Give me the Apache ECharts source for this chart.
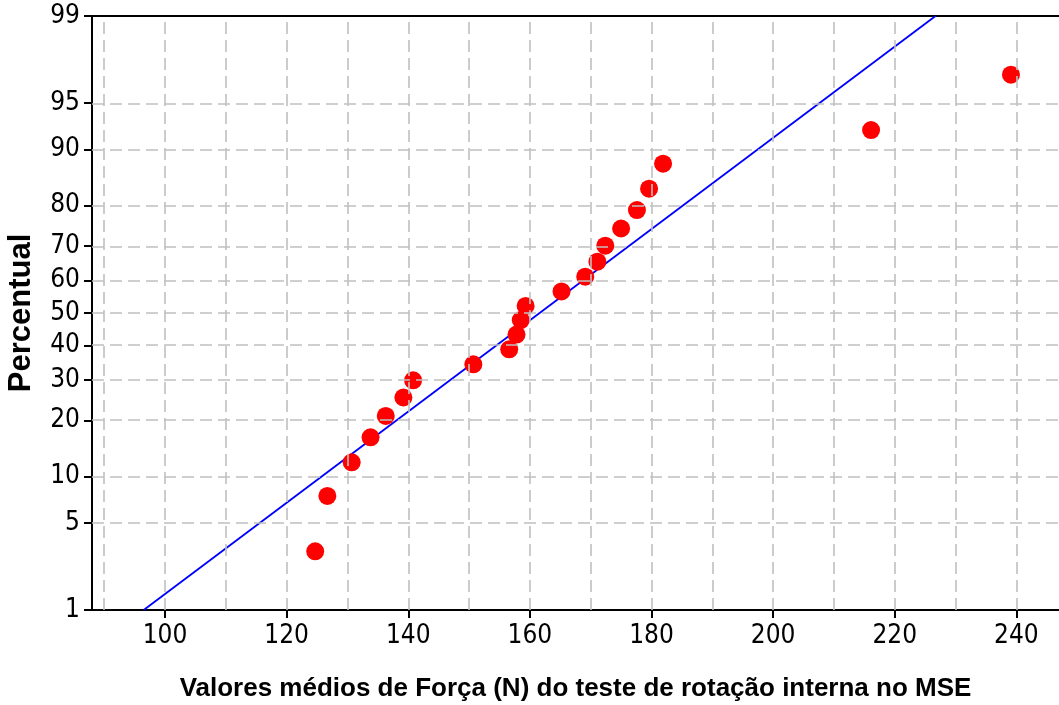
<!DOCTYPE html>
<html>
<head>
<meta charset="utf-8">
<script src="https://cdn.jsdelivr.net/npm/echarts@6/dist/echarts.min.js"></script>
<style>
html,body{margin:0;padding:0;background:#fff;}
#chart{width:1059px;height:705px;}
</style>
</head>
<body>
<div id="chart"></div>
<script>
// ---- data ----
const forceValues = [124.7, 126.7, 130.7, 133.8, 136.3, 139.2, 140.8, 150.7, 156.6, 157.8, 158.5,
                     159.3, 165.2, 169.1, 171.1, 172.4, 175.0, 177.6, 179.6, 181.9, 216.1, 239.1];
const percentValues = [3.1, 7.6, 12.1, 16.5, 21.0, 25.4, 29.9, 34.4, 38.8, 43.3, 47.8,
                       52.2, 56.7, 61.2, 65.6, 70.1, 74.6, 79.0, 83.5, 87.9, 92.4, 96.9];
const fitLineForce = [96.5, 226.7];
const fitLinePercent = [1, 99];
const yTickLabels = [1, 5, 10, 20, 30, 40, 50, 60, 70, 80, 90, 95, 99];
const xTickLabels = [100, 120, 140, 160, 180, 200, 220, 240];
const xGridValues = [90, 100, 110, 120, 130, 140, 150, 160, 170, 180, 190, 200, 210, 220, 230, 240];
const yGridLabels = [5, 10, 20, 30, 40, 50, 60, 70, 80, 90, 95];
const xTitle = 'Valores médios de Força (N) do teste de rotação interna no MSE';
const yTitle = 'Percentual';

// inverse standard normal (probability scale)
function normInv(p) {
  const a = [-3.969683028665376e+01, 2.209460984245205e+02, -2.759285104469687e+02, 1.383577518672690e+02, -3.066479806614716e+01, 2.506628277459239e+00];
  const b = [-5.447609879822406e+01, 1.615858368580409e+02, -1.556989798598866e+02, 6.680131188771972e+01, -1.328068155288572e+01];
  const c = [-7.784894002430293e-03, -3.223964580411365e-01, -2.400758277161838e+00, -2.549732539343734e+00, 4.374664141464968e+00, 2.938163982698783e+00];
  const d = [7.784695709041462e-03, 3.224671290700398e-01, 2.445134137142996e+00, 3.754408661907416e+00];
  const plow = 0.02425, phigh = 1 - plow;
  let q, r;
  if (p < plow) {
    q = Math.sqrt(-2 * Math.log(p));
    return (((((c[0]*q+c[1])*q+c[2])*q+c[3])*q+c[4])*q+c[5]) / ((((d[0]*q+d[1])*q+d[2])*q+d[3])*q+1);
  } else if (p <= phigh) {
    q = p - 0.5; r = q * q;
    return (((((a[0]*r+a[1])*r+a[2])*r+a[3])*r+a[4])*r+a[5])*q / (((((b[0]*r+b[1])*r+b[2])*r+b[3])*r+b[4])*r+1);
  } else {
    q = Math.sqrt(-2 * Math.log(1 - p));
    return -(((((c[0]*q+c[1])*q+c[2])*q+c[3])*q+c[4])*q+c[5]) / ((((d[0]*q+d[1])*q+d[2])*q+d[3])*q+1);
  }
}
const z = pct => normInv(pct / 100);

const yTickZ = yTickLabels.map(z);
const yMin = z(1), yMax = z(99);
const pointData = forceValues.map((v, i) => [v, z(percentValues[i])]);
const fitData = fitLineForce.map((v, i) => [v, z(fitLinePercent[i])]);

const labelFont = "'DejaVu Sans Condensed', 'DejaVu Sans', sans-serif";
const titleFont = "'Liberation Sans', Arial, sans-serif";

const gridLineStyle = { type: [12, 6], color: '#c0c0c0', width: 1.6 };

const chart = echarts.init(document.getElementById('chart'), null, { renderer: 'canvas' });
chart.setOption({
  animation: false,
  backgroundColor: '#ffffff',
  grid: { left: 92, top: 16, right: 0, bottom: 95, containLabel: false, outerBoundsMode: 'none' },
  xAxis: [{
    type: 'value', min: 88, max: 247, position: 'bottom',
    name: xTitle, nameLocation: 'middle', nameGap: 66,
    nameTextStyle: { fontFamily: titleFont, fontWeight: 'bold', fontSize: 26, color: '#000' },
    axisLine: { show: true, onZero: false, lineStyle: { color: '#000', width: 2 } },
    axisTick: { show: true, length: 8, inside: false, customValues: xTickLabels, lineStyle: { color: '#000', width: 2 } },
    axisLabel: { customValues: xTickLabels, margin: 13, fontFamily: labelFont, fontSize: 26, color: '#000' },
    splitLine: { show: false }
  }, {
    type: 'value', min: 88, max: 247, position: 'top',
    axisLine: { show: true, onZero: false, lineStyle: { color: '#000', width: 2 } },
    axisTick: { show: false }, axisLabel: { show: false }, splitLine: { show: false }
  }],
  yAxis: {
    type: 'value', min: yMin, max: yMax,
    name: yTitle, nameLocation: 'middle', nameGap: 55, nameRotate: 90,
    nameTextStyle: { fontFamily: titleFont, fontWeight: 'bold', fontSize: 31, color: '#000' },
    axisLine: { show: true, onZero: false, lineStyle: { color: '#000', width: 2 } },
    axisTick: { show: true, length: 8, inside: false, customValues: yTickZ, lineStyle: { color: '#000', width: 2 } },
    axisLabel: {
      customValues: yTickZ, margin: 12, fontFamily: labelFont, fontSize: 26, color: '#000',
      formatter: function (val) {
        let best = 0, bd = Infinity;
        yTickZ.forEach((t, i) => { const dd = Math.abs(t - val); if (dd < bd) { bd = dd; best = i; } });
        return String(yTickLabels[best]);
      }
    },
    splitLine: { show: false }
  },
  series: [{
    type: 'line', data: [], z: 1, silent: true,
    markLine: {
      silent: true, symbol: ['none', 'none'], label: { show: false }, animation: false,
      lineStyle: gridLineStyle,
      data: xGridValues.map(v => ({ xAxis: v })).concat(yGridLabels.map(p => ({ yAxis: z(p) })))
    }
  }, {
    type: 'line', data: fitData, z: 2, symbol: 'none', showSymbol: false,
    lineStyle: { color: '#0000ff', width: 1.8 }
  }, {
    type: 'scatter', data: pointData, z: 3, symbol: 'circle', symbolSize: 18,
    itemStyle: { color: '#ff0000', opacity: 1 }
  }]
});
</script>
</body>
</html>
